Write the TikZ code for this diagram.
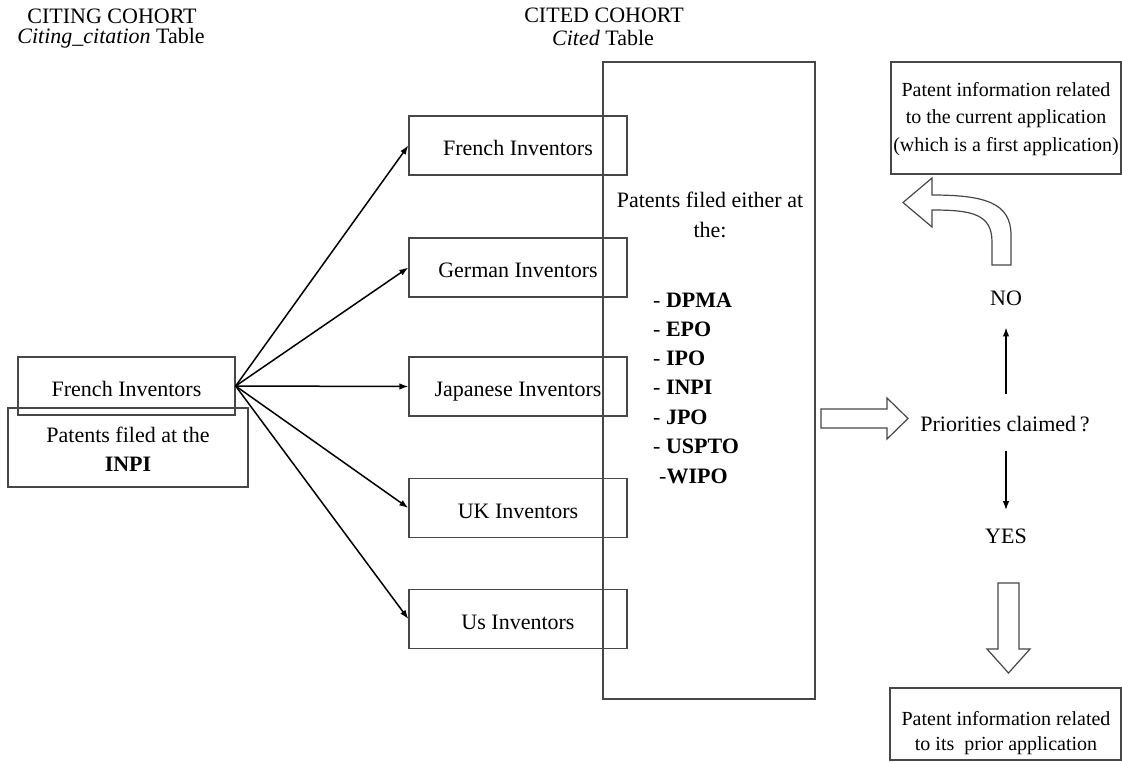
\documentclass[tikz,border=0pt]{standalone}
\usepackage{fontspec}
\setmainfont{Liberation Serif}
\usetikzlibrary{arrows.meta}
\begin{document}
\begin{tikzpicture}[x=1pt,y=-1pt,
  every node/.style={inner sep=0pt},
  txt/.style={font=\fontsize{22}{26}\selectfont},
  small/.style={font=\fontsize{20}{26}\selectfont},
  frame/.style={draw=black!72,line width=1.3pt},
  invbox/.style={frame,minimum width=218pt,minimum height=59pt,txt,text height=20pt,text depth=0pt},
  link/.style={line width=1.5pt,-{Latex[length=9pt,width=6.5pt]}},
  hollow/.style={draw=black!72,line width=1.2pt,fill=white,line join=miter}]
\useasboundingbox (0,0) rectangle (1122,761);

% headers
\node[txt,anchor=base] (citingH) at (112,23) {CITING COHORT};
\node[txt,anchor=base] (citingT) at (111,43) {\textit{Citing\_citation} Table};
\node[txt,anchor=base] (citedH) at (604,22) {CITED COHORT};
\node[txt,anchor=base] (citedT) at (603,45) {\textit{Cited} Table};

% tall cited rectangle
\node[frame,minimum width=212pt,minimum height=637pt] (cited) at (709,380.5) {};

% left boxes
\node[frame,minimum width=240pt,minimum height=79pt] (inpi) at (128,447.5) {};
\node[txt,anchor=base] (inpi1) at (128,442) {Patents filed at the};
\node[txt,anchor=base] (inpi2) at (128,471) {\textbf{INPI}};
\node[invbox,minimum width=217pt,minimum height=58pt] (fr0) at (126.5,386) {French Inventors};

% cited inventors
\node[invbox] (fr) at (518,145.5) {French Inventors};
\node[invbox] (de) at (518,267.5) {German Inventors};
\node[invbox] (jp) at (518,386.5) {Japanese Inventors};
\node[invbox] (uk) at (518,508) {UK Inventors};
\node[invbox] (us) at (518,619) {Us Inventors};

\foreach \t in {fr,de,jp,uk,us}
  \draw[link] (fr0.east) -- (\t.west);

% middle text
\node[txt,anchor=base] (pf1) at (710,207) {Patents filed either at};
\node[txt,anchor=base] (pf2) at (710,237) {the:};
\foreach \n/\t [count=\i from 0] in {dpma/DPMA,epo/EPO,ipo/IPO,inpiL/INPI,jpo/JPO,uspto/USPTO}
  \node[txt,anchor=base west] (\n) at (653,{307+29.3*\i}) {- \textbf{\t}};
\node[txt,anchor=base west] (wipo) at (659,483) {-\textbf{WIPO}};

% right hollow arrow
\draw[hollow] (821,409) -- (887,409) -- (887,398) -- (908,418.5) -- (887,439) -- (887,428) -- (821,428) -- cycle;

% decision
\node[txt,anchor=base] (prio) at (1005,431) {Priorities claimed\,?};
\node[txt,anchor=base] (no) at (1006,305) {NO};
\node[txt,anchor=base] (yes) at (1006,543) {YES};
\draw[link,shorten <=22pt,shorten >=22pt] (prio.north -| no.south) -- (no.south);
\draw[link,shorten <=19pt,shorten >=18pt] (prio.south -| yes.north) -- (yes.north);

% curved hollow arrow
\draw[hollow] (992,265) -- (1011,265) -- (1011,235)
  .. controls (1011,203) and (985,195) .. (932,195)
  -- (932,178) -- (903,202.5) -- (932,227) -- (932,210)
  .. controls (972,210) and (992,214) .. (992,242) -- cycle;

% down hollow arrow
\draw[hollow] (998,583) -- (1019,583) -- (1019,649) -- (1030,649) -- (1008.5,673) -- (987,649) -- (998,649) -- cycle;

% top right box
\node[frame,minimum width=230pt,minimum height=112pt] (first) at (1006,118) {};
\node[small,anchor=base] (first1) at (1006,96) {Patent information related};
\node[small,anchor=base] (first2) at (1006,123.5) {to the current application};
\node[small,anchor=base] (first3) at (1006,151) {(which is a first application)};

% bottom right box
\node[frame,minimum width=231pt,minimum height=72pt] (prior) at (1005.5,724) {};
\node[small,anchor=base] (prior1) at (1006,725) {Patent information related};
\node[small,anchor=base] (prior2) at (1006,750) {to its\ \ prior application};
\end{tikzpicture}
\end{document}
